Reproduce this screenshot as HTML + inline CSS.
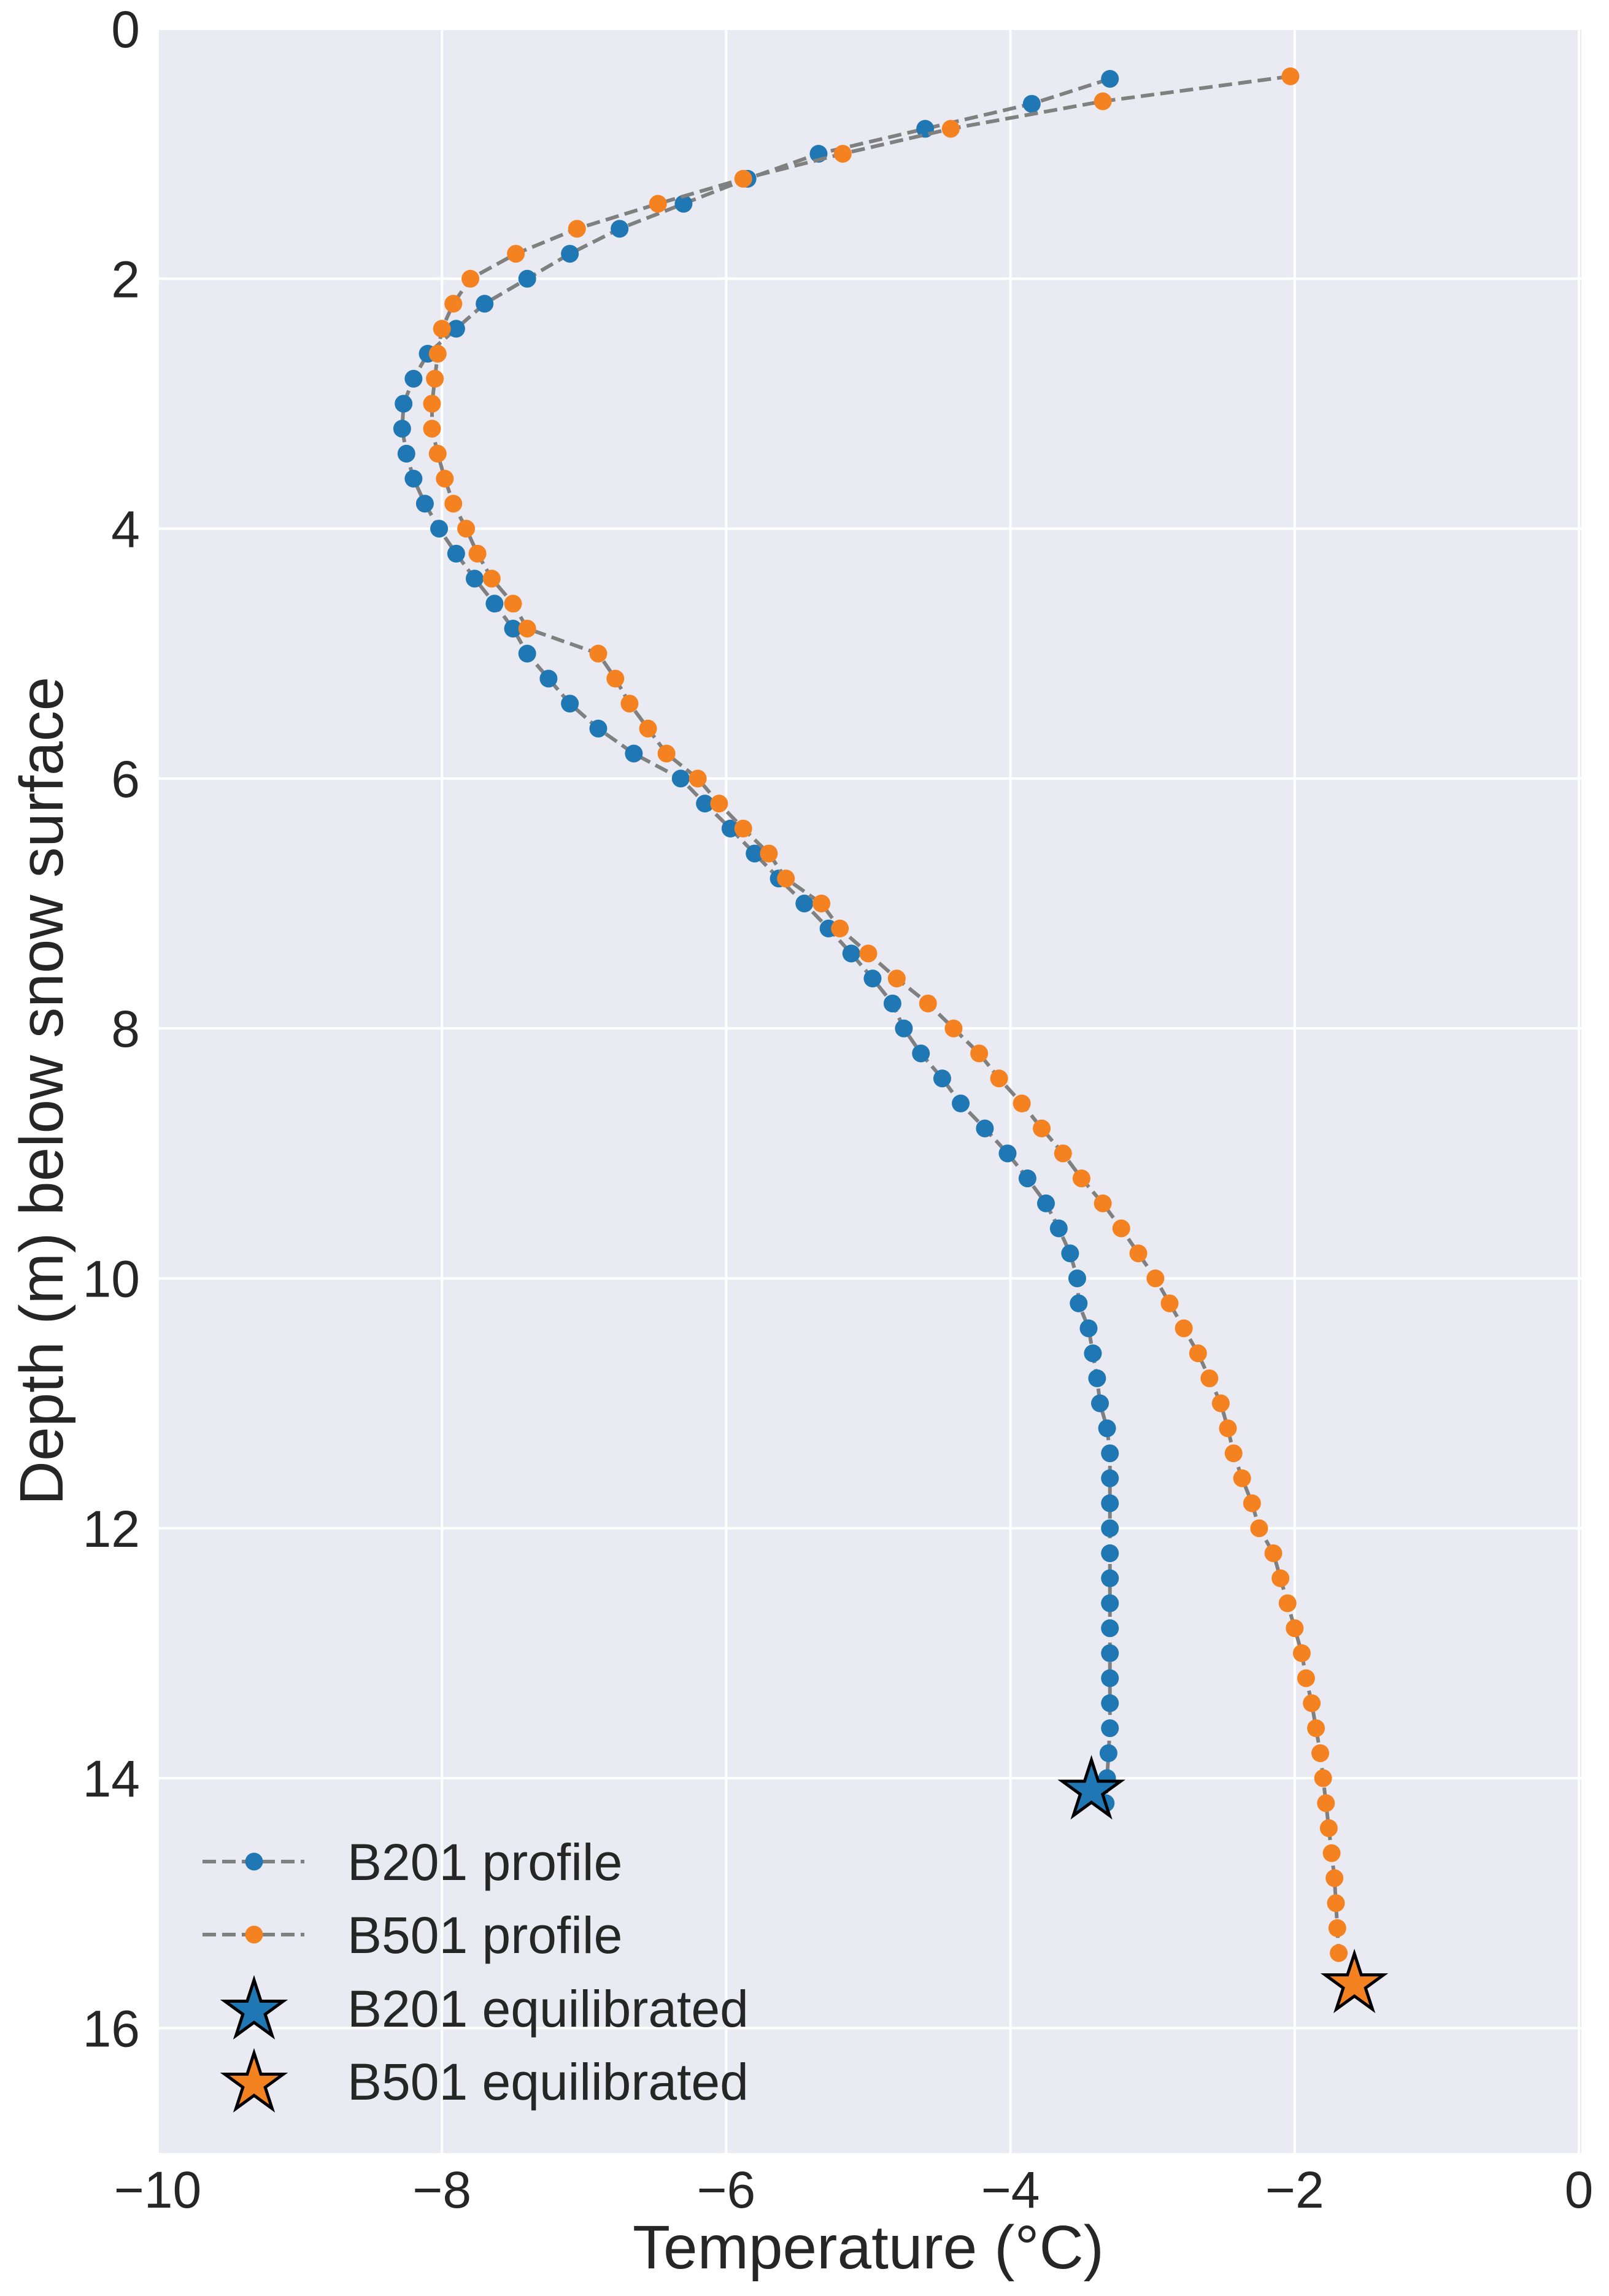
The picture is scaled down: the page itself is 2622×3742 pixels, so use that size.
<!DOCTYPE html>
<html><head><meta charset="utf-8"><style>
html,body{margin:0;padding:0;background:#fff;}
svg{display:block;font-family:"Liberation Sans",Arial,sans-serif;}
</style></head><body>
<svg id="chart" width="2622" height="3742" viewBox="0 0 2622 3742" xmlns="http://www.w3.org/2000/svg">
<rect x="257" y="47" width="2320" height="3462" fill="#eaeaf2"/>
<g id="grid"></g>
<g id="ticks"></g>
<g id="series"></g>
<text x="1415" y="3697" font-size="100" fill="#262626" text-anchor="middle">Temperature (°C)</text>
<text transform="translate(102,1778) rotate(-90)" font-size="100" fill="#262626" text-anchor="middle">Depth (m) below snow surface</text>
<g id="legend"></g>
</svg>
<script>
const xTicks=[-10,-8,-6,-4,-2,0];
const yTicks=[0,2,4,6,8,10,12,14,16];
const b201Depth=[0.4,0.6,0.8,1.0,1.2,1.4,1.6,1.8,2.0,2.2,2.4,2.6,2.8,3.0,3.2,3.4,3.6,3.8,4.0,4.2,4.4,4.6,4.8,5.0,5.2,5.4,5.6,5.8,6.0,6.2,6.4,6.6,6.8,7.0,7.2,7.4,7.6,7.8,8.0,8.2,8.4,8.6,8.8,9.0,9.2,9.4,9.6,9.8,10.0,10.2,10.4,10.6,10.8,11.0,11.2,11.4,11.6,11.8,12.0,12.2,12.4,12.6,12.8,13.0,13.2,13.4,13.6,13.8,14.0,14.2];
const b201Temp=[-3.3,-3.85,-4.6,-5.35,-5.85,-6.3,-6.75,-7.1,-7.4,-7.7,-7.9,-8.1,-8.2,-8.27,-8.28,-8.25,-8.2,-8.12,-8.02,-7.9,-7.77,-7.63,-7.5,-7.4,-7.25,-7.1,-6.9,-6.65,-6.32,-6.15,-5.97,-5.8,-5.63,-5.45,-5.28,-5.12,-4.97,-4.83,-4.75,-4.63,-4.48,-4.35,-4.18,-4.02,-3.88,-3.75,-3.66,-3.58,-3.53,-3.52,-3.45,-3.42,-3.39,-3.37,-3.32,-3.3,-3.3,-3.3,-3.3,-3.3,-3.3,-3.3,-3.3,-3.3,-3.3,-3.3,-3.3,-3.31,-3.32,-3.33];
const b501Depth=[0.38,0.58,0.8,1.0,1.2,1.4,1.6,1.8,2.0,2.2,2.4,2.6,2.8,3.0,3.2,3.4,3.6,3.8,4.0,4.2,4.4,4.6,4.8,5.0,5.2,5.4,5.6,5.8,6.0,6.2,6.4,6.6,6.8,7.0,7.2,7.4,7.6,7.8,8.0,8.2,8.4,8.6,8.8,9.0,9.2,9.4,9.6,9.8,10.0,10.2,10.4,10.6,10.8,11.0,11.2,11.4,11.6,11.8,12.0,12.2,12.4,12.6,12.8,13.0,13.2,13.4,13.6,13.8,14.0,14.2,14.4,14.6,14.8,15.0,15.2,15.4];
const b501Temp=[-2.03,-3.35,-4.42,-5.18,-5.88,-6.48,-7.05,-7.48,-7.8,-7.92,-8.0,-8.03,-8.05,-8.07,-8.07,-8.03,-7.98,-7.92,-7.83,-7.75,-7.65,-7.5,-7.4,-6.9,-6.78,-6.68,-6.55,-6.42,-6.2,-6.05,-5.88,-5.7,-5.58,-5.33,-5.2,-5.0,-4.8,-4.58,-4.4,-4.22,-4.08,-3.92,-3.78,-3.63,-3.5,-3.35,-3.22,-3.1,-2.98,-2.88,-2.78,-2.68,-2.6,-2.52,-2.47,-2.43,-2.37,-2.3,-2.25,-2.15,-2.1,-2.05,-2.0,-1.95,-1.92,-1.88,-1.85,-1.82,-1.8,-1.78,-1.76,-1.74,-1.72,-1.71,-1.7,-1.69];
const eqTemp=[-3.43,-1.58];
const eqDepth=[14.1,15.65];
const seriesNames=["B201","B501"];
const colors=["#1f77b4","#f58220"];

const NS="http://www.w3.org/2000/svg";
const X0=257,X1=2573,Y0=47,Y1=3509;
function sx(v){return X0+(v+10)/10*(X1-X0);}
function sy(v){return Y0+v/17*(Y1-Y0);}
function mk(tag,attrs,parent){const e=document.createElementNS(NS,tag);for(const k in attrs)e.setAttribute(k,attrs[k]);parent.appendChild(e);return e;}
function starPts(cx,cy,R){const r=R*0.382;let p=[];for(let i=0;i<10;i++){const a=-Math.PI/2+i*Math.PI/5;const rr=i%2?r:R;p.push((cx+rr*Math.cos(a)).toFixed(1)+","+(cy+rr*Math.sin(a)).toFixed(1));}return p.join(" ");}
const grid=document.getElementById('grid'),ticks=document.getElementById('ticks'),series=document.getElementById('series'),legend=document.getElementById('legend');
xTicks.forEach(t=>{
  const l=mk('line',{x1:sx(t),x2:sx(t),y1:Y0,y2:Y1,stroke:'#fff','stroke-width':4},grid);
  
  
  const tx=mk('text',{x:sx(t),y:3598,'font-size':84,fill:'#262626','text-anchor':'middle'},ticks);
  tx.textContent=(t<0?'\u2212'+(-t):String(t));
  
  
});
yTicks.forEach(t=>{
  const l=mk('line',{x1:X0,x2:X1+4,y1:sy(t),y2:sy(t),stroke:'#fff','stroke-width':4},grid);
  
  
  const tx=mk('text',{x:228,y:sy(t)+30,'font-size':84,fill:'#262626','text-anchor':'end'},ticks);
  tx.textContent=String(t);
  
  
});
[[b201Temp,b201Depth],[b501Temp,b501Depth]].forEach((s,i)=>{
  const pts=s[0].map((v,j)=>sx(v).toFixed(1)+","+sy(s[1][j]).toFixed(1)).join(" ");
  const pl=mk('polyline',{points:pts,fill:'none',stroke:'#808080','stroke-width':6,'stroke-dasharray':'22 10'},series);
  
  
  s[0].forEach((v,j)=>{
    const c=mk('circle',{cx:sx(v),cy:sy(s[1][j]),r:14.5,fill:colors[i]},series);
    
    
  });
});
eqTemp.forEach((v,i)=>{
  const st=mk('polygon',{points:starPts(sx(v),sy(eqDepth[i]),50),fill:colors[i],stroke:'#000','stroke-width':5,'stroke-linejoin':'miter'},series);
  
  
});
const legRows=[3034,3153,3273,3392];
const legLabels=["B201 profile","B501 profile","B201 equilibrated","B501 equilibrated"];
legLabels.forEach((lab,i)=>{
  const cy=legRows[i];
  if(i<2){
    const l=mk('line',{x1:330,x2:496,y1:cy,y2:cy,stroke:'#808080','stroke-width':6,'stroke-dasharray':'22 10'},legend);
    
    
    const c=mk('circle',{cx:414,cy:cy,r:14.5,fill:colors[i]},legend);
    
    
  } else {
    const st=mk('polygon',{points:starPts(414,cy+4,50),fill:colors[i-2],stroke:'#000','stroke-width':5},legend);
    
    
  }
  const t=mk('text',{x:566,y:cy+30,'font-size':84,fill:'#262626'},legend);
  t.textContent=lab;
  
  
});
</script>
</body></html>
